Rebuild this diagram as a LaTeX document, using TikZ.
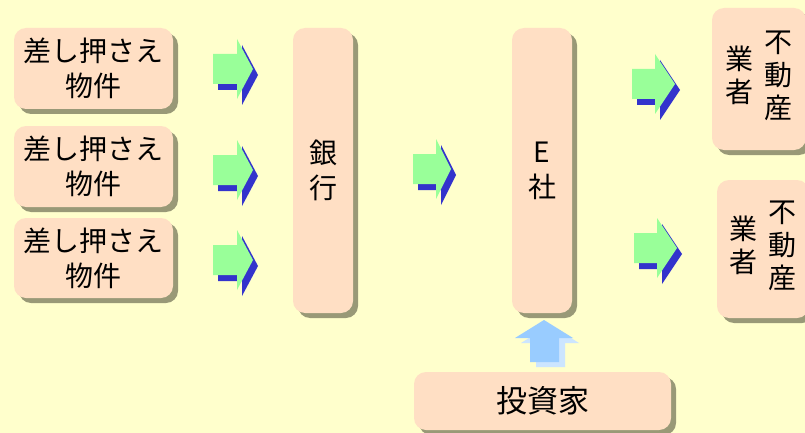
\documentclass[tikz,border=0pt]{standalone}
\usepackage{fontspec}
\newfontfamily\jp{Noto Sans CJK JP}
\usetikzlibrary{shadows}
\definecolor{bg}{HTML}{FFFFCC}
\definecolor{boxfill}{HTML}{FFDFC4}
\definecolor{shadowc}{HTML}{999977}
\definecolor{agreen}{HTML}{99FF99}
\definecolor{ablue}{HTML}{3333CC}
\definecolor{ublue}{HTML}{99CCFF}
\definecolor{ushadow}{HTML}{CCE5FF}
\tikzset{
  box/.style={rounded corners=12pt, fill=boxfill, draw=none,
    drop shadow={shadow xshift=5pt, shadow yshift=-5pt, fill=shadowc, opacity=1},
    inner sep=0pt, font=\jp\fontsize{28}{35}\selectfont, align=center},
}
\newcommand\greenarrow[4]{% x0, xb, xt, cy
  \begin{scope}[shift={(5,6)}]
    \fill[ablue] ({#1},{#4-15}) -- ({#2},{#4-15}) -- ({#2},{#4-30}) -- ({#3},{#4}) -- ({#2},{#4+30}) -- ({#2},{#4+15}) -- ({#1},{#4+15}) -- cycle;
  \end{scope}
  \fill[agreen] ({#1},{#4-15}) -- ({#2},{#4-15}) -- ({#2},{#4-30}) -- ({#3},{#4}) -- ({#2},{#4+30}) -- ({#2},{#4+15}) -- ({#1},{#4+15}) -- cycle;
}
\newcommand\twocol[2]{\begin{tabular}[c]{@{}c@{}}#1\end{tabular}\hspace{11pt}\begin{tabular}[c]{@{}c@{}}#2\end{tabular}}
\begin{document}
\begin{tikzpicture}[x=1pt,y=-1pt]
\useasboundingbox (0,0) rectangle (805,433);
\clip (0,0) rectangle (805,433);
\fill[bg] (0,0) rectangle (805,433);

\node[box, minimum width=159pt, minimum height=81pt] (s1) at (93.5,68.5) {差し押さえ\\物件};
\node[box, minimum width=159pt, minimum height=81pt] (s2) at (93.5,166.5) {差し押さえ\\物件};
\node[box, minimum width=159pt, minimum height=80pt] (s3) at (93.5,258) {差し押さえ\\物件};

\node[box, minimum width=60pt, minimum height=285pt] (bank) at (323,170.5) {銀\\行};
\node[box, minimum width=60pt, minimum height=285pt] (esha) at (542,170.5) {E\\社};

\node[box, minimum width=94pt, minimum height=142pt, font=\jp\fontsize{28}{33}\selectfont] (f1) at (759,79) {\twocol{業\\者}{不\\動\\産}};
\node[box, minimum width=92pt, minimum height=138pt, font=\jp\fontsize{28}{33}\selectfont] (f2) at (763,249) {\twocol{業\\者}{不\\動\\産}};

\node[box, minimum width=257pt, minimum height=58pt, font=\jp\fontsize{31}{35}\selectfont] (inv) at (542.5,401) {投資家};

\greenarrow{213}{237}{253}{69}
\greenarrow{213}{237}{253}{170}
\greenarrow{213}{237}{253}{260}
\greenarrow{413}{436}{451}{169}
\greenarrow{632}{655}{675}{84}
\greenarrow{634}{657}{677}{248}

\begin{scope}[shift={(6,5)}]
  \fill[ushadow] (530,362) -- (530,338) -- (515,338) -- (544,320) -- (573,338) -- (559,338) -- (559,362) -- cycle;
\end{scope}
\fill[ublue] (530,362) -- (530,338) -- (515,338) -- (544,320) -- (573,338) -- (559,338) -- (559,362) -- cycle;
\end{tikzpicture}
\end{document}
